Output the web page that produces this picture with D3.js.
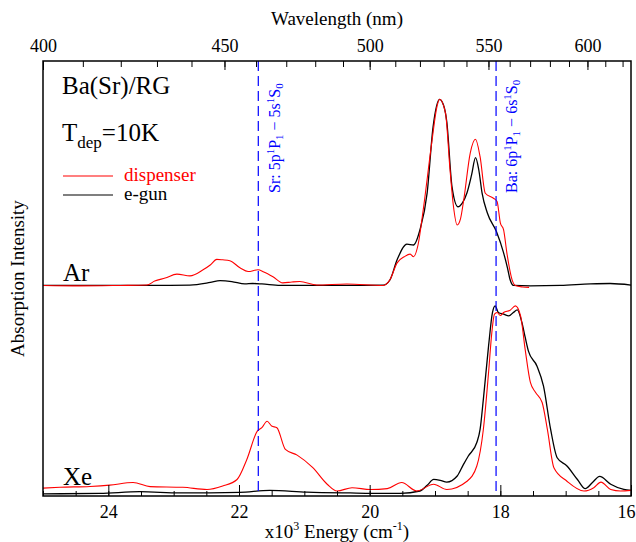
<!DOCTYPE html>
<html>
<head>
<meta charset="utf-8">
<script src="https://cdn.jsdelivr.net/npm/d3@7"></script>
<style>
  body { margin: 0; background: #fff; }
  svg, svg text { font-family: "Liberation Serif", "Times New Roman", serif !important; }
</style>
</head>
<body>
<div id="chart"></div>
<script>
// energies in 10^3 cm^-1, intensities in arbitrary units above each matrix baseline
var arEgunE = [25.00, 23.36, 22.75, 22.44, 22.29, 22.11, 21.91, 21.79, 21.65, 21.37, 20.45, 19.79, 19.69, 19.58, 19.43, 19.33, 19.23, 19.12, 19.03, 18.93, 18.87, 18.82, 18.74, 18.65, 18.58, 18.51, 18.44, 18.38, 18.33, 18.28, 18.20, 18.06, 17.95, 17.89, 17.85, 17.80, 17.54, 17.08, 16.62, 16.32, 16.00];
var arEgunI = [0, 0, 0.1, 0.7, 1.1, 0.9, 0.35, 0.45, 0.35, 0, 0, 0.1, 1.26, 5.9, 9.5, 9.3, 12.8, 21.3, 36.4, 42.8, 41.5, 37.7, 22.7, 18.1, 19.0, 21.3, 25.4, 29.4, 26.6, 21.3, 16.7, 12.4, 7.5, 4.0, 1.3, 0, -0.1, 0, 0.35, 0.45, 0.1];

var arDispE = [25.00, 24.44, 23.82, 23.41, 23.29, 23.13, 22.95, 22.75, 22.55, 22.44, 22.34, 22.25, 22.14, 21.98, 21.86, 21.71, 21.62, 21.48, 21.33, 21.19, 21.07, 20.81, 20.35, 19.79, 19.69, 19.58, 19.47, 19.38, 19.33, 19.26, 19.18, 19.05, 18.97, 18.93, 18.84, 18.77, 18.72, 18.66, 18.61, 18.56, 18.46, 18.38, 18.31, 18.23, 18.10, 18.05, 18.00, 17.95, 17.90, 17.82, 17.77, 17.66, 17.56];
var arDispI = [0, -0.1, 0, 0.1, 1.0, 1.7, 2.6, 2.2, 3.6, 4.7, 6.0, 5.9, 5.7, 4.0, 3.2, 3.6, 3.1, 2.0, 0.6, 0.8, 0.9, 0.1, 0.35, 0, 1.3, 5.2, 6.6, 7.2, 6.6, 9.3, 17.4, 32.8, 41.1, 42.8, 39.7, 26.6, 18.5, 13.9, 15.3, 19.7, 30.5, 33.6, 29.6, 21.2, 20.0, 19.3, 14.4, 12.8, 7.5, 1.3, 0, -0.35, -0.45];

var xeEgunE = [25.00, 24.13, 23.52, 22.90, 21.99, 21.53, 20.96, 20.30, 19.73, 19.53, 19.23, 19.12, 19.02, 18.92, 18.82, 18.66, 18.57, 18.49, 18.36, 18.31, 18.26, 18.18, 18.12, 18.08, 18.03, 17.95, 17.87, 17.80, 17.74, 17.67, 17.62, 17.57, 17.44, 17.34, 17.23, 17.13, 16.98, 16.82, 16.70, 16.59, 16.48, 16.31, 16.11, 16.00];
var xeEgunI = [0, 0.1, 0.5, 0.2, 0.35, 0.8, 0.4, 0.2, 0.1, 0.1, 0.65, 1.95, 3.3, 3.1, 2.7, 4.1, 6.6, 8.7, 11.8, 14.8, 21.7, 34.0, 41.7, 43.2, 41.7, 41.3, 40.9, 41.7, 42.3, 39.4, 36.0, 32.8, 29.4, 24.8, 14.8, 8.3, 6.4, 3.3, 1.2, 2.6, 4.0, 2.2, 1.0, 0.8];

var xeDispE = [25.00, 24.74, 24.28, 23.98, 23.62, 23.36, 22.86, 22.49, 22.25, 22.03, 21.88, 21.72, 21.65, 21.57, 21.50, 21.42, 21.29, 21.11, 20.87, 20.65, 20.50, 20.27, 19.99, 19.73, 19.51, 19.28, 19.02, 18.82, 18.51, 18.36, 18.26, 18.18, 18.13, 18.09, 18.05, 18.00, 17.95, 17.85, 17.77, 17.69, 17.62, 17.54, 17.46, 17.36, 17.28, 17.18, 16.98, 16.72, 16.57, 16.46, 16.31, 16.16, 16.00];
var xeDispI = [1.3, 1.5, 1.7, 2.0, 2.6, 1.65, 1.5, 1.0, 1.8, 3.3, 7.9, 14.4, 15.2, 16.7, 15.6, 15.2, 10.2, 8.9, 6.0, 2.2, 0.65, 1.4, 1.0, 1.2, 2.6, 0.65, 2.2, 1.0, 2.9, 6.4, 14.8, 27.9, 37.1, 41.3, 41.7, 41.0, 41.7, 42.2, 43.2, 40.9, 33.2, 25.6, 23.3, 21.0, 14.8, 6.0, 2.9, 0.65, 1.4, 2.7, 1.0, 0.65, 0.8];

var energyMajor = [24, 22, 20, 18, 16];
var wavelengthMajor = [400, 450, 500, 550, 600];
var atomicLines = [
  { name: "Sr", lambda: 460.73 },
  { name: "Ba", lambda: 553.55 }
];
var matrices = ["Ar", "Xe"];
var sources = ["dispenser", "e-gun"];

var W = 636, H = 542;
var m = { left: 43, right: 5, top: 61, bottom: 46 };
var x0 = m.left, x1 = W - m.right, y0 = m.top, y1 = H - m.bottom;
var serif = "'Liberation Serif', 'Times New Roman', serif";

var x = d3.scaleLinear().domain([25, 16]).range([x0, x1]);
var y = d3.scaleLinear().domain([0, 100]).range([y1, y0]);
var offset = { Ar: 48.4, Xe: 0.5 };
var colors = { "dispenser": "#ff0000", "e-gun": "#000000" };

var svg = d3.select("#chart").append("svg")
  .attr("width", W).attr("height", H)
  .style("font-family", serif);

var series = [
  { m: "Ar", src: "e-gun", e: arEgunE, v: arEgunI },
  { m: "Ar", src: "dispenser", e: arDispE, v: arDispI },
  { m: "Xe", src: "e-gun", e: xeEgunE, v: xeEgunI },
  { m: "Xe", src: "dispenser", e: xeDispE, v: xeDispI }
];

var line = d3.line()
  .x(function(d) { return x(d[0]); })
  .y(function(d) { return y(d[1]); })
  .curve(d3.curveMonotoneX);

series.forEach(function(s) {
  var pts = s.e.map(function(e, i) { return [e, s.v[i] + offset[s.m]]; });
  svg.append("path")
    .attr("d", line(pts))
    .attr("fill", "none")
    .attr("stroke", colors[s.src])
    .attr("stroke-width", s.src == "e-gun" ? 1.3 : 1.1);
});

// atomic reference lines
atomicLines.forEach(function(a) {
  var xe = x(1e4 / a.lambda);
  svg.append("line")
    .attr("x1", xe).attr("x2", xe).attr("y1", y0).attr("y2", y1)
    .attr("stroke", "#0000ff").attr("stroke-width", 1.2)
    .attr("stroke-dasharray", "10,5");
});

function label(xp, el, n) {
  var t = svg.append("text")
    .attr("transform", "translate(" + xp + ",193) rotate(-90)")
    .attr("fill", "#0000ff").attr("font-size", 16).style("font-family", serif);
  t.append("tspan").text(el + ": " + n + "p");
  t.append("tspan").attr("font-size", 11).attr("dy", -6).text("1");
  t.append("tspan").attr("dy", 6).text("P");
  t.append("tspan").attr("font-size", 11).attr("dy", 3).text("1");
  t.append("tspan").attr("dy", -3).text(" \u2212 " + n + "s");
  t.append("tspan").attr("font-size", 11).attr("dy", -6).text("1");
  t.append("tspan").attr("dy", 6).text("S");
  t.append("tspan").attr("font-size", 11).attr("dy", 3).text("0");
}
label(x(1e4 / atomicLines[0].lambda) + 22, "Sr", 5);
label(x(1e4 / atomicLines[1].lambda) + 21, "Ba", 6);

function styleAxis(g) {
  g.attr("font-family", serif);
  g.select(".domain").remove();
  g.selectAll("text").attr("font-size", 18).style("font-family", serif).attr("fill", "#000");
}

// bottom axis
var bottomMinor = d3.range(16, 25.01, 0.5);
svg.append("g").attr("transform", "translate(0," + y1 + ")")
  .call(d3.axisBottom(x).tickValues(bottomMinor).tickSize(-5).tickFormat(""))
  .call(styleAxis);
svg.append("g").attr("transform", "translate(0," + y1 + ")")
  .call(d3.axisBottom(x).tickValues(energyMajor).tickSize(-11).tickPadding(9).tickFormat(d3.format("d")))
  .call(styleAxis)
  .call(function(g) {
    g.selectAll("text").filter(function(d) { return d == 16; }).attr("dx", -5);
  });

// top axis (wavelength)
var topMinor = d3.range(400, 621, 10);
svg.append("g").attr("transform", "translate(0," + y0 + ")")
  .call(d3.axisTop(x).tickValues(topMinor.map(function(l) { return 1e4 / l; })).tickSize(-6).tickFormat(""))
  .call(styleAxis);
svg.append("g").attr("transform", "translate(0," + y0 + ")")
  .call(d3.axisTop(x).tickValues(wavelengthMajor.map(function(l) { return 1e4 / l; }))
    .tickSize(-9).tickPadding(9).tickFormat(function(e) { return Math.round(1e4 / e); }))
  .call(styleAxis);

// frame
svg.append("rect")
  .attr("x", x0).attr("y", y0).attr("width", x1 - x0).attr("height", y1 - y0)
  .attr("fill", "none").attr("stroke", "#000").attr("stroke-width", 1.5);

// titles
svg.append("text").attr("x", (x0 + x1) / 2).attr("y", 25)
  .attr("text-anchor", "middle").attr("font-size", 19).style("font-family", serif)
  .text("Wavelength (nm)");

var xt = svg.append("text").attr("x", (x0 + x1) / 2).attr("y", 538)
  .attr("text-anchor", "middle").attr("font-size", 19).style("font-family", serif);
xt.append("tspan").text("x10");
xt.append("tspan").attr("font-size", 12).attr("dy", -8).text("3");
xt.append("tspan").attr("dy", 8).text(" Energy (cm");
xt.append("tspan").attr("font-size", 12).attr("dy", -8).text("-1");
xt.append("tspan").attr("dy", 8).text(")");

svg.append("text")
  .attr("transform", "translate(24," + ((y0 + y1) / 2) + ") rotate(-90)")
  .attr("text-anchor", "middle").attr("font-size", 19).style("font-family", serif)
  .text("Absorption Intensity");

// annotations
svg.append("text").attr("x", 62).attr("y", 94).attr("font-size", 25)
  .style("font-family", serif).text("Ba(Sr)/RG");
var td = svg.append("text").attr("x", 62).attr("y", 141).attr("font-size", 25)
  .style("font-family", serif);
td.append("tspan").text("T");
td.append("tspan").attr("font-size", 17).attr("dy", 7).text("dep");
td.append("tspan").attr("dy", -7).text("=10K");

sources.forEach(function(s, i) {
  var ly = 176 + i * 19;
  svg.append("line").attr("x1", 63).attr("x2", 113).attr("y1", ly).attr("y2", ly)
    .attr("stroke", colors[s]).attr("stroke-width", 1.1);
  svg.append("text").attr("x", 124).attr("y", ly + 5).attr("font-size", 19)
    .style("font-family", serif).attr("fill", colors[s]).text(s);
});

matrices.forEach(function(mt) {
  svg.append("text").attr("x", 63).attr("y", mt == "Ar" ? 281 : 485)
    .attr("font-size", 25).style("font-family", serif).text(mt);
});
</script>
</body>
</html>
